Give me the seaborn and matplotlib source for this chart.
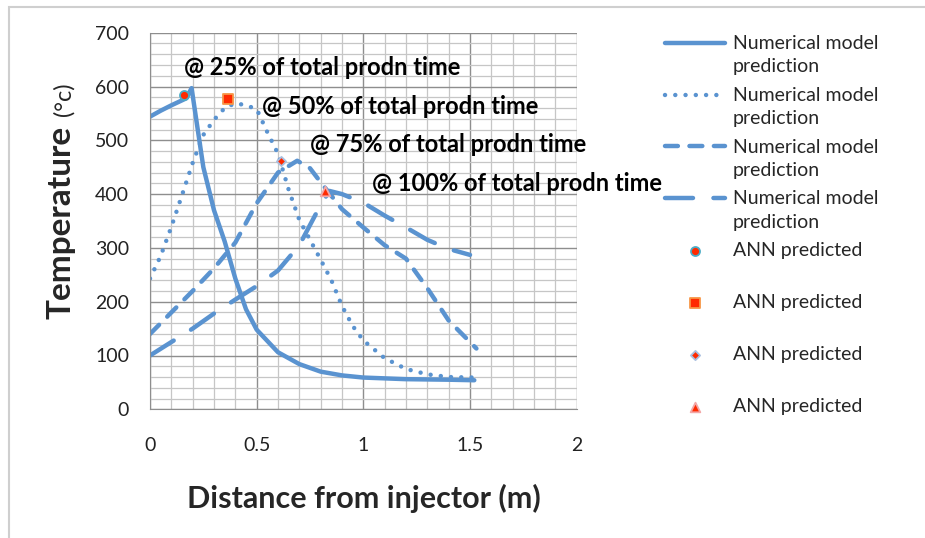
import matplotlib
matplotlib.use("Agg")
import matplotlib.pyplot as plt
import seaborn as sns
from matplotlib.patches import Rectangle
from matplotlib.ticker import MultipleLocator, FuncFormatter

# Numerical model prediction, distance from injector (m) vs temperature (C)
x_25 = [0, 0.05, 0.1, 0.17, 0.195, 0.22, 0.25, 0.3, 0.35, 0.4, 0.45, 0.5,
        0.6, 0.7, 0.8, 0.9, 1.0, 1.2, 1.4, 1.52]
t_25 = [544, 555, 565, 578, 597, 530, 450, 370, 312, 243, 186, 148,
        106, 84, 70, 63, 59, 56, 55, 54]

x_50 = [0, 0.05, 0.1, 0.15, 0.2, 0.25, 0.3, 0.35, 0.4, 0.45, 0.5, 0.55,
        0.6, 0.65, 0.7, 0.75, 0.8, 0.85, 0.9, 0.95, 1.0, 1.1, 1.2, 1.3,
        1.4, 1.52]
t_50 = [243, 285, 339, 398, 458, 510, 538, 560, 569, 565, 558, 515,
        475, 408, 352, 315, 278, 240, 192, 155, 128, 95, 75, 65,
        60, 59]

x_75 = [0, 0.1, 0.2, 0.3, 0.4, 0.5, 0.6, 0.69, 0.75, 0.8, 0.9, 1.0,
        1.1, 1.2, 1.3, 1.4, 1.53]
t_75 = [140, 180, 220, 262, 310, 383, 440, 462, 448, 422, 372, 338,
        305, 280, 225, 165, 113]

x_100 = [0, 0.1, 0.2, 0.3, 0.4, 0.5, 0.6, 0.7, 0.78, 0.84, 0.9, 1.0,
         1.1, 1.2, 1.3, 1.4, 1.5]
t_100 = [100, 125, 150, 178, 204, 229, 258, 305, 365, 406, 400, 384,
         360, 338, 315, 298, 287]

# ANN predicted points
ann_x = [0.158, 0.367, 0.612, 0.822]
ann_t = [584, 576, 462, 406]
ann_labels = ["@ 25% of total prodn time", "@ 50% of total prodn time",
              "@ 75% of total prodn time", "@ 100% of total prodn time"]

BLUE = "#5A93D0"
RED = "#FF2A00"

sns.set_style("white")
plt.rcParams["font.family"] = ["Lato", "DejaVu Sans"]

fig = plt.figure(figsize=(9.25, 5.38), dpi=100)
ax = fig.add_axes([150 / 925, 1 - 409.3 / 538, 426.7 / 925, 376.6 / 538])

lw = 3.2
sns.lineplot(x=x_25, y=t_25, ax=ax, color=BLUE, lw=lw, sort=False,
             solid_capstyle="round", label="Numerical model\nprediction")
sns.lineplot(x=x_50, y=t_50, ax=ax, color=BLUE, lw=lw, sort=False,
             linestyle=(0, (0.01, 2.3)), dash_capstyle="round",
             label="Numerical model\nprediction")
sns.lineplot(x=x_75, y=t_75, ax=ax, color=BLUE, lw=lw, sort=False,
             linestyle=(0, (2.9, 2.6)), dash_capstyle="round",
             label="Numerical model\nprediction")
sns.lineplot(x=x_100, y=t_100, ax=ax, color=BLUE, lw=lw, sort=False,
             linestyle=(0, (6.3, 4.6)), dash_capstyle="round",
             label="Numerical model\nprediction")

marker_styles = [
    ("o", 42, "#4BACC6"),
    ("s", 55, "#F79646"),
    ("D", 22, "#A9BFE0"),
    ("^", 48, "#F2A7A7"),
]
for xi, ti, (mk, size, edge) in zip(ann_x, ann_t, marker_styles):
    sns.scatterplot(x=[xi], y=[ti], ax=ax, marker=mk, s=size, color=RED,
                    edgecolor=edge, linewidth=1.3, zorder=5,
                    label="ANN predicted\n ")

# text labels next to the ANN points
offsets = [(0, 28), (34, -7), (29, 16), (47, 7)]
for xi, ti, txt, off in zip(ann_x, ann_t, ann_labels, offsets):
    ax.annotate(txt, (xi, ti), xytext=off, textcoords="offset pixels",
                ha="left", va="center", fontsize=17, fontweight="bold",
                color="black")

ax.set_xlim(0, 2)
ax.set_ylim(0, 700)
ax.xaxis.set_major_locator(MultipleLocator(0.5))
ax.xaxis.set_minor_locator(MultipleLocator(0.1))
ax.yaxis.set_major_locator(MultipleLocator(100))
ax.yaxis.set_minor_locator(MultipleLocator(20))
ax.xaxis.set_major_formatter(FuncFormatter(lambda v, p: f"{v:g}"))
ax.grid(which="major", color="#8E8E8E", lw=1.0)
ax.grid(which="minor", color="#C6C6C6", lw=0.9)
ax.set_axisbelow(True)
ax.tick_params(which="major", direction="out", length=5, width=1,
               color="#8E8E8E", labelsize=14, labelcolor="#222222")
ax.tick_params(axis="y", pad=10)
ax.tick_params(axis="x", pad=15)
ax.tick_params(which="minor", length=0)
for side in ["top", "right"]:
    ax.spines[side].set_visible(False)
for side in ["left", "bottom"]:
    ax.spines[side].set_color("#8E8E8E")

ax.set_xlabel("Distance from injector (m)", fontsize=22, fontweight="bold")
ax.xaxis.set_label_coords(0.5015, -0.197)
ax.set_ylabel("")
fig.text(61 / 925, 1 - 222 / 538, "Temperature", rotation=90, ha="center",
         va="center", fontsize=24, fontweight="bold")
fig.text(64 / 925, 1 - 99 / 538, "(°c)", rotation=90, ha="center",
         va="center", fontsize=17)

handles, labels = ax.get_legend_handles_labels()
leg = ax.legend(handles, labels, loc="upper left",
                bbox_to_anchor=(665 / 925, 1 - 35 / 538),
                bbox_transform=fig.transFigure, frameon=False, fontsize=14,
                handlelength=3.1, handleheight=1.0, handletextpad=0.4,
                borderpad=0, borderaxespad=0, labelspacing=0.6)
for t in leg.get_texts():
    t.set_linespacing(1.44)
# put each legend key level with the first line of its label
for col in leg._legend_handle_box.get_children():
    for row in col.get_children():
        row.align = "top"

fig.add_artist(Rectangle((9 / 925, -0.1), 1.2, 1.1 - 7 / 538, fill=False,
                         edgecolor="#CFCFCF", lw=1.5,
                         transform=fig.transFigure))

fig.savefig("out.png", dpi=100)
